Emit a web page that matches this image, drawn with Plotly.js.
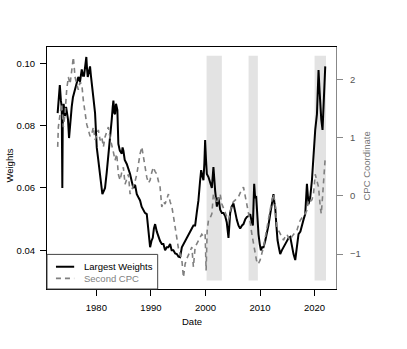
<!DOCTYPE html>
<html>
<head>
<meta charset="utf-8">
<script src="https://cdn.plot.ly/plotly-3.0.1.min.js"></script>
<style>
  html, body { margin: 0; padding: 0; background: #ffffff; }
  #chart { width: 407px; height: 349px; }
</style>
</head>
<body>
<div id="chart"></div>
<script>
// Largest weights (left axis)
const weightYears = [
  1972.9, 1973.1, 1973.3, 1973.5, 1973.65, 1973.76, 1973.85, 1974.0, 1974.25, 1974.45,
  1974.62, 1974.8, 1974.99, 1975.2, 1975.48, 1975.7, 1976.09, 1976.4, 1976.69, 1977.0,
  1977.32, 1977.55, 1977.74, 1977.95, 1978.16, 1978.3, 1978.42, 1978.6, 1978.84, 1979.0,
  1979.15, 1979.45, 1979.76, 1979.95, 1980.07, 1980.35, 1980.68, 1980.9, 1981.1, 1981.35,
  1981.59, 1981.9, 1982.2, 1982.5, 1982.82, 1983.0, 1983.12, 1983.3, 1983.43, 1983.6,
  1983.85, 1984.03, 1984.3, 1984.66, 1984.8, 1984.95, 1985.2, 1985.57, 1985.9, 1986.18,
  1986.5, 1986.78, 1987.1, 1987.41, 1987.7, 1988.01, 1988.3, 1988.62, 1988.9, 1989.24,
  1989.54, 1989.85, 1990.1, 1990.34, 1990.55, 1990.77, 1991.08, 1991.4, 1991.68, 1992.0,
  1992.29, 1992.6, 1992.91, 1993.2, 1993.52, 1993.8, 1994.12, 1994.45, 1994.75, 1995.05,
  1995.35, 1995.67, 1996.0, 1996.27, 1996.6, 1996.88, 1997.2, 1997.5, 1997.8, 1998.11,
  1998.4, 1998.71, 1999.0, 1999.21, 1999.4, 1999.63, 1999.8, 1999.94, 2000.1, 2000.25,
  2000.55, 2000.85, 2001.17, 2001.46, 2001.62, 2001.78, 2002.09, 2002.38, 2002.7, 2003.01,
  2003.3, 2003.61, 2003.9, 2004.22, 2004.53, 2004.8, 2005.13, 2005.45, 2005.76, 2006.05,
  2006.36, 2006.7, 2006.97, 2007.3, 2007.59, 2007.9, 2008.2, 2008.5, 2008.69, 2008.93,
  2009.1, 2009.3, 2009.5, 2009.72, 2009.95, 2010.16, 2010.4, 2010.64, 2010.95, 2011.26,
  2011.55, 2011.87, 2012.2, 2012.47, 2012.65, 2012.78, 2013.0, 2013.21, 2013.45, 2013.7,
  2014.0, 2014.31, 2014.6, 2014.93, 2015.25, 2015.54, 2015.85, 2016.14, 2016.46, 2016.75,
  2017.06, 2017.4, 2017.68, 2018.0, 2018.29, 2018.6, 2018.89, 2019.21, 2019.52, 2019.81,
  2020.12, 2020.44, 2020.6, 2020.73, 2020.91, 2021.05, 2021.23, 2021.46, 2021.6, 2021.72,
  2021.85, 2021.96
];
const weightValues = [
  0.084, 0.089, 0.093, 0.088, 0.086, 0.060, 0.085, 0.087, 0.083, 0.086,
  0.084, 0.082, 0.076, 0.081, 0.086, 0.089, 0.092, 0.094, 0.0956, 0.094,
  0.098, 0.096, 0.096, 0.099, 0.102, 0.098, 0.0956, 0.097, 0.099, 0.096,
  0.093, 0.089, 0.084, 0.078, 0.073, 0.069, 0.0645, 0.061, 0.058, 0.059,
  0.060, 0.065, 0.070, 0.076, 0.082, 0.086, 0.088, 0.084, 0.0837, 0.087,
  0.085, 0.0741, 0.072, 0.071, 0.073, 0.072, 0.069, 0.0677, 0.066, 0.0645,
  0.062, 0.060, 0.061, 0.058, 0.057, 0.056, 0.054, 0.053, 0.052, 0.0516,
  0.045, 0.041, 0.043, 0.044, 0.047, 0.0484, 0.046, 0.044, 0.043, 0.042,
  0.042, 0.040, 0.041, 0.041, 0.042, 0.040, 0.040, 0.039, 0.0388, 0.038,
  0.0378, 0.041, 0.042, 0.043, 0.044, 0.045, 0.046, 0.047, 0.048, 0.048,
  0.052, 0.056, 0.062, 0.0657, 0.064, 0.0625, 0.068, 0.0754, 0.069, 0.0645,
  0.0635, 0.062, 0.060, 0.0667, 0.062, 0.059, 0.054, 0.057, 0.053, 0.052,
  0.052, 0.051, 0.049, 0.044, 0.052, 0.054, 0.055, 0.052, 0.0497, 0.048,
  0.047, 0.048, 0.0484, 0.050, 0.0507, 0.051, 0.0516, 0.049, 0.048, 0.0613,
  0.057, 0.0571, 0.050, 0.0452, 0.042, 0.040, 0.041, 0.041, 0.043, 0.0452,
  0.048, 0.0516, 0.055, 0.058, 0.055, 0.0539, 0.048, 0.0433, 0.041, 0.0388,
  0.040, 0.041, 0.042, 0.0433, 0.044, 0.0443, 0.041, 0.0388, 0.0369, 0.041,
  0.0452, 0.046, 0.0484, 0.050, 0.0516, 0.0613, 0.0548, 0.0571, 0.0625, 0.0709,
  0.0786, 0.0837, 0.092, 0.0978, 0.0914, 0.086, 0.082, 0.0786, 0.084, 0.0892,
  0.094, 0.099
];

// Second CPC coordinate (right axis)
const cpcYears = [
  1972.91, 1973.03, 1973.34, 1973.65, 1973.94, 1974.25, 1974.56, 1974.86, 1975.18, 1975.48,
  1975.78, 1976.09, 1976.4, 1976.69, 1977.0, 1977.32, 1977.61, 1977.92, 1978.23, 1978.53,
  1978.85, 1979.15, 1979.45, 1979.76, 1980.05, 1980.36, 1980.7, 1980.99, 1981.29, 1981.59,
  1981.9, 1982.2, 1982.5, 1982.82, 1983.12, 1983.43, 1983.74, 1984.03, 1984.34, 1984.65,
  1984.95, 1985.26, 1985.55, 1985.87, 1986.18, 1986.48, 1986.78, 1987.1, 1987.41, 1987.7,
  1988.01, 1988.33, 1988.62, 1988.93, 1989.24, 1989.55, 1989.85, 1990.15, 1990.45, 1990.75,
  1991.08, 1991.38, 1991.68, 1991.99, 1992.3, 1992.6, 1992.9, 1993.21, 1993.52, 1993.84,
  1994.13, 1994.43, 1994.74, 1995.04, 1995.35, 1995.67, 1995.96, 1996.27, 1996.58, 1996.88,
  1997.2, 1997.5, 1997.79, 1998.11, 1998.4, 1998.71, 1999.02, 1999.33, 1999.64, 1999.94,
  2000.12, 2000.31, 2000.55, 2000.86, 2001.17, 2001.46, 2001.78, 2002.09, 2002.39, 2002.69,
  2003.01, 2003.31, 2003.61, 2003.92, 2004.22, 2004.53, 2004.84, 2005.15, 2005.45, 2005.75,
  2006.05, 2006.36, 2006.67, 2006.97, 2007.28, 2007.59, 2007.88, 2008.2, 2008.51, 2008.82,
  2009.12, 2009.34, 2009.54, 2009.78, 2010.03, 2010.34, 2010.64, 2010.95, 2011.26, 2011.57,
  2011.87, 2012.17, 2012.47, 2012.78, 2013.1, 2013.4, 2013.7, 2014.0, 2014.31, 2014.62,
  2014.93, 2015.24, 2015.54, 2015.84, 2016.14, 2016.46, 2016.77, 2017.07, 2017.37, 2017.68,
  2017.98, 2018.29, 2018.6, 2018.89, 2019.2, 2019.52, 2019.81, 2020.12, 2020.44, 2020.73,
  2021.04, 2021.23, 2021.46, 2021.72, 2021.96
];
const cpcValues = [
  0.84, 1.18, 1.40, 1.58, 1.18, 1.40, 1.82, 2.04, 1.92, 2.16,
  2.38, 2.04, 1.92, 1.82, 1.95, 1.92, 1.64, 1.40, 1.23, 1.13,
  1.02, 1.06, 1.18, 0.96, 1.05, 1.13, 0.95, 1.01, 0.84, 1.01,
  1.10, 1.18, 1.00, 0.84, 0.75, 0.61, 0.72, 0.37, 0.27, 0.40,
  0.49, 0.20, 0.30, 0.37, 0.03, 0.10, 0.15, 0.25, 0.37, 0.55,
  0.72, 0.84, 0.66, 0.45, 0.32, 0.22, 0.27, 0.40, 0.49, 0.42,
  0.37, 0.25, 0.15, -0.19, -0.10, -0.14, -0.05, 0.03, -0.10, -0.19,
  -0.35, -0.54, -0.70, -0.90, -1.00, -1.10, -1.40, -1.17, -1.08, -1.00,
  -0.95, -0.88, -1.22, -0.88, -0.82, -0.76, -0.72, -0.66, -0.70, -0.66,
  -1.28, -0.60, -0.42, -0.38, -0.31, 0.03, -0.05, -0.14, -0.05, 0.03,
  -0.14, -0.22, -0.31, -0.36, -0.42, -0.30, -0.14, -0.10, -0.07, -0.05,
  -0.02, 0.05, 0.10, 0.15, 0.00, -0.14, -0.31, -0.45, -0.66, -0.85,
  -1.00, -1.10, -1.17, -1.15, -1.10, -1.00, -0.88, -0.72, -0.54, -0.38,
  -0.19, -0.08, 0.03, -0.14, -0.54, -0.60, -0.66, -0.70, -0.76, -0.70,
  -0.66, -0.72, -0.76, -0.70, -0.66, -0.62, -0.59, -0.50, -0.42, -0.38,
  -0.36, -0.30, -0.25, -0.07, -0.10, -0.07, 0.03, 0.37, 0.27, 0.15,
  -0.19, -0.31, -0.02, 0.37, 0.66
];

// Shaded periods
const bandStart = [2000.2, 2007.9, 2020.0];
const bandEnd = [2003.0, 2009.6, 2022.1];

const seriesNames = ['Largest Weights', 'Second CPC'];
const seriesLines = [
  { color: '#000000', width: 2 },
  { color: '#808080', width: 1.6, dash: '5px,4px' },
];

const fam = 'Liberation Sans, Arial, sans-serif';
const font = { family: fam, size: 9.5, color: '#000000' };

const shapes = bandStart.map((s, i) => ({
  type: 'rect', xref: 'x', yref: 'y domain',
  x0: s, x1: bandEnd[i], y0: 0.035, y1: 0.964,
  fillcolor: '#e3e3e3', line: { width: 0 }, layer: 'below',
}));

// R-style legend box in the lower left corner of the plot
const annotations = [
  { text: 'Date', xref: 'paper', yref: 'paper', x: 0.5, y: -0.136,
    xanchor: 'center', yanchor: 'middle', showarrow: false, font: font },
  { text: 'Weights', xref: 'paper', yref: 'paper', x: -0.128, y: 0.51,
    xanchor: 'center', yanchor: 'middle', textangle: -90, showarrow: false, font: font },
  { text: 'CPC Coordinate', xref: 'paper', yref: 'paper', x: 1.107, y: 0.51,
    xanchor: 'center', yanchor: 'middle', textangle: -90, showarrow: false,
    font: { family: fam, size: 9.5, color: '#777777' } },
];
shapes.push({
  type: 'rect', xref: 'paper', yref: 'paper', x0: 0, x1: 0.383, y0: 0, y1: 0.143,
  fillcolor: '#ffffff', line: { color: '#444444', width: 1 }, layer: 'above',
});
const rowY = [0.092, 0.044];
seriesNames.forEach((name, i) => {
  shapes.push({
    type: 'line', xref: 'paper', yref: 'paper', x0: 0.031, x1: 0.094, y0: rowY[i], y1: rowY[i],
    line: seriesLines[i], layer: 'above',
  });
  annotations.push({
    text: name, xref: 'paper', yref: 'paper', x: 0.122, y: rowY[i],
    xanchor: 'left', yanchor: 'middle', showarrow: false,
    font: { family: fam, size: 9.5, color: seriesLines[i].color },
  });
});

Plotly.newPlot('chart', [
  {
    x: weightYears, y: weightValues, name: seriesNames[0],
    type: 'scatter', mode: 'lines', line: seriesLines[0],
  },
  {
    x: cpcYears, y: cpcValues, name: seriesNames[1], yaxis: 'y2',
    type: 'scatter', mode: 'lines', line: seriesLines[1],
  },
], {
  width: 407, height: 349,
  margin: { l: 47, r: 71, t: 47, b: 60 },
  paper_bgcolor: '#ffffff', plot_bgcolor: '#ffffff',
  font: font,
  showlegend: false,
  xaxis: {
    range: [1970.95, 2023.93], tickvals: [1980, 1990, 2000, 2010, 2020],
    showgrid: false, zeroline: false, showline: true, mirror: true,
    linecolor: '#000000', linewidth: 1,
    ticks: 'outside', ticklen: 6, tickcolor: '#000000', ticklabelstandoff: 4,
  },
  yaxis: {
    range: [0.0276, 0.1052], tickvals: [0.04, 0.06, 0.08, 0.10], tickformat: '.2f',
    showgrid: false, zeroline: false, showline: true,
    linecolor: '#000000', linewidth: 1,
    ticks: 'outside', ticklen: 6, tickcolor: '#000000', ticklabelstandoff: 3,
  },
  yaxis2: {
    overlaying: 'y', side: 'right',
    range: [-1.60, 2.555], tickvals: [-1, 0, 1, 2],
    showgrid: false, zeroline: false, showline: true,
    linecolor: '#888888', linewidth: 1,
    ticks: 'outside', ticklen: 6, tickcolor: '#888888', ticklabelstandoff: 5,
    tickfont: { family: fam, size: 9.5, color: '#555555' },
  },
  shapes: shapes,
  annotations: annotations,
}, { displayModeBar: false });
</script>
</body>
</html>
